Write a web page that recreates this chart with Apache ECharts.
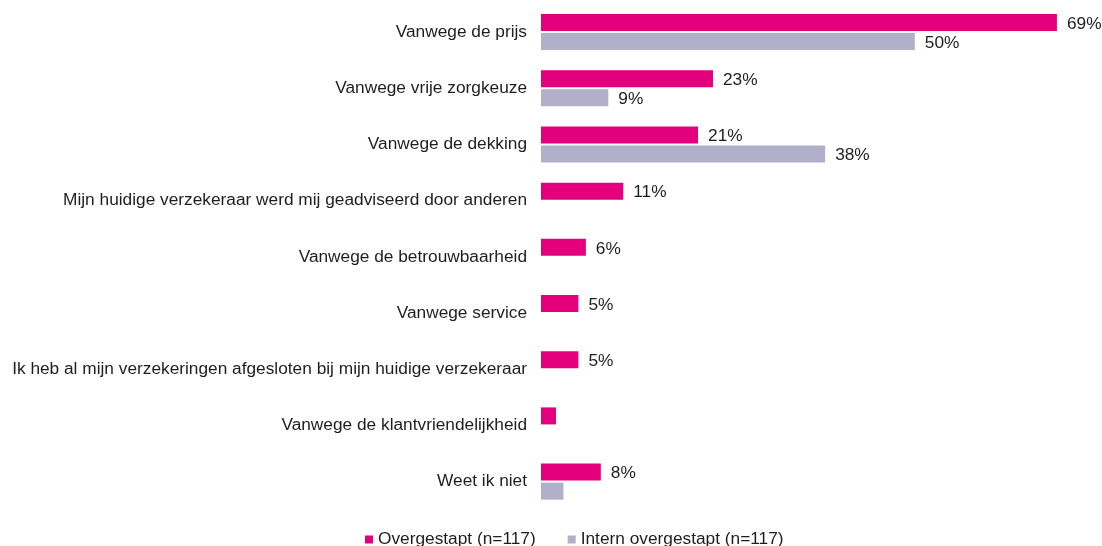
<!DOCTYPE html>
<html><head><meta charset="utf-8">
<script src="https://cdn.jsdelivr.net/npm/echarts@6/dist/echarts.min.js"></script>
<style>html,body{margin:0;padding:0;background:#fff}#c{width:1102px;height:546px}</style>
</head><body><div id="c"></div>
<script>
const categories = [
  'Vanwege de prijs',
  'Vanwege vrije zorgkeuze',
  'Vanwege de dekking',
  'Mijn huidige verzekeraar werd mij geadviseerd door anderen',
  'Vanwege de betrouwbaarheid',
  'Vanwege service',
  'Ik heb al mijn verzekeringen afgesloten bij mijn huidige verzekeraar',
  'Vanwege de klantvriendelijkheid',
  'Weet ik niet'
];
const overgestapt = [69, 23, 21, 11, 6, 5, 5, 2, 8];
const internOvergestapt = [50, 9, 38, null, null, null, null, null, 3];
const seriesNames = ['Overgestapt (n=117)', 'Intern overgestapt (n=117)'];

const font = 'Liberation Sans, Arial, sans-serif';
const fs = 17.3;
const lbl = {
  show: true, position: 'right', distance: 10, offset: [0, 1.5],
  color: '#1e1e1e', fontFamily: font, fontSize: fs,
  formatter: p => (p.value == null || p.value < 4) ? '' : p.value + '%'
};
const chart = echarts.init(document.getElementById('c'));
chart.setOption({
  animation: false,
  grid: { left: 541, right: 37.6, top: 4, bottom: 36.3, containLabel: false },
  legend: {
    bottom: -7, left: 360,
    itemWidth: 8, itemHeight: 8, itemGap: 32, icon: 'rect',
    textStyle: { fontFamily: font, fontSize: fs, color: '#1e1e1e' },
    data: seriesNames
  },
  xAxis: { type: 'value', min: 0, max: 70, show: false },
  yAxis: {
    type: 'category', data: categories, inverse: true,
    axisLine: { show: false }, axisTick: { show: false },
    axisLabel: { margin: 14, fontFamily: font, fontSize: fs, color: '#1e1e1e' }
  },
  series: [
    { name: seriesNames[0], type: 'bar', data: overgestapt, barWidth: 17, barGap: '12%',
      itemStyle: { color: '#E4007D' }, label: lbl },
    { name: seriesNames[1], type: 'bar', data: internOvergestapt, barWidth: 17,
      itemStyle: { color: '#B2AFCB' }, label: lbl }
  ]
});
</script></body></html>
